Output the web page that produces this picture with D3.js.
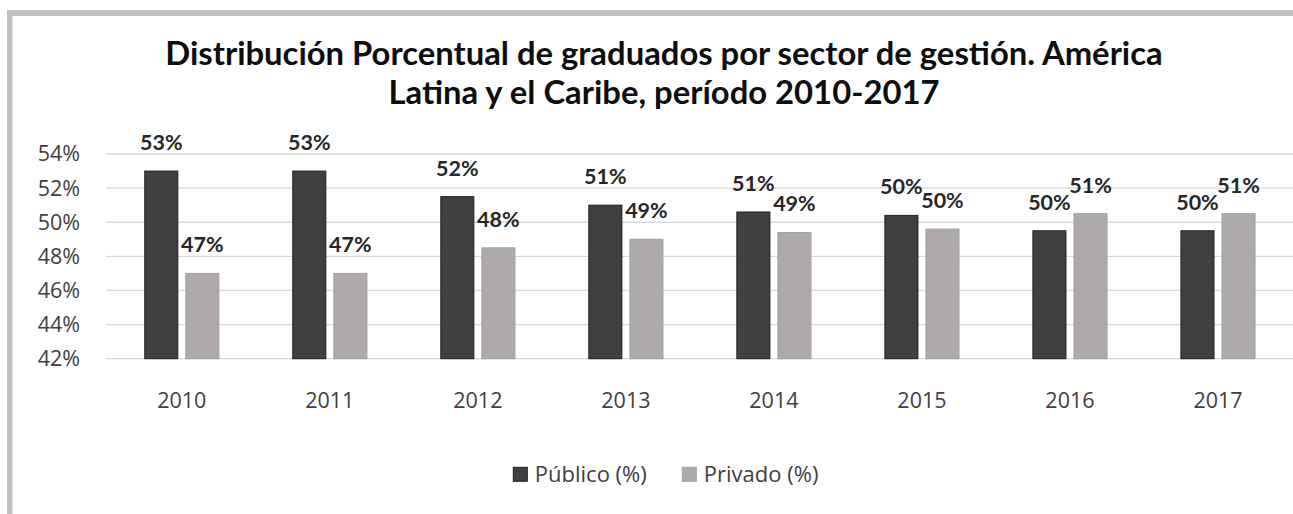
<!DOCTYPE html>
<html>
<head>
<meta charset="utf-8">
<script src="https://cdn.jsdelivr.net/npm/d3@7"></script>
<style>
  html, body { margin: 0; padding: 0; background: #fff; }
  svg { display: block; }
</style>
</head>
<body>
<svg id="chart" width="1293" height="514"></svg>
<script>
// ---- data ----
const years = ["2010", "2011", "2012", "2013", "2014", "2015", "2016", "2017"];
const seriesNames = ["Público (%)", "Privado (%)"];
const publico = [53.0, 53.0, 51.5, 51.0, 50.6, 50.4, 49.5, 49.5];
const privado = [47.0, 47.0, 48.5, 49.0, 49.4, 49.6, 50.5, 50.5];
const publicoLabels = ["53%", "53%", "52%", "51%", "51%", "50%", "50%", "50%"];
const privadoLabels = ["47%", "47%", "48%", "49%", "49%", "50%", "51%", "51%"];
const yTicks = [42, 44, 46, 48, 50, 52, 54];
const titleLines = [
  "Distribución Porcentual de graduados por sector de gestión. América",
  "Latina y el Caribe, período 2010-2017"
];

const colors = { "Público (%)": "#404040", "Privado (%)": "#AEAAAA" };
const strokes = { "Público (%)": "#1f1f1f", "Privado (%)": "#a3a0a0" };

const svg = d3.select("#chart");

// frame (top and left gray border of the cropped chart area)
svg.append("rect").attr("x", 7).attr("y", 10).attr("width", 1293 - 7).attr("height", 6).attr("fill", "#C0C0C4");
svg.append("rect").attr("x", 7).attr("y", 10).attr("width", 5.5).attr("height", 514 - 10).attr("fill", "#C0C0C4");

// scales
const x0 = d3.scaleBand().domain(years).range([107.8, 1292]).paddingInner(0).paddingOuter(0);
const x1 = d3.scaleBand().domain(seriesNames).range([0, x0.bandwidth()]).paddingInner(0.195).paddingOuter(0.90);
const y = d3.scaleLinear().domain([42, 54]).range([358.7, 154]);

// gridlines
svg.append("g").selectAll("line").data(yTicks).join("line")
  .attr("x1", 106).attr("x2", 1293)
  .attr("y1", d => y(d)).attr("y2", d => y(d))
  .attr("stroke", "#D9D9D9").attr("stroke-width", 1.3);

// y axis labels
const yAxis = d3.axisLeft(y).tickValues(yTicks).tickFormat(d => d + "%").tickSize(0).tickPadding(0);
const gy = svg.append("g").attr("transform", "translate(80,0)").call(yAxis);
gy.select(".domain").remove();
gy.selectAll("text")
  .attr("font-family", "'Open Sans', sans-serif").attr("font-size", 21.5)
  .attr("fill", "#404040");

// x axis labels
const xAxis = d3.axisBottom(x0).tickSize(0).tickPadding(0);
const gx = svg.append("g").attr("transform", "translate(0,393)").call(xAxis);
gx.select(".domain").remove();
gx.selectAll("text")
  .attr("font-family", "'Open Sans', sans-serif").attr("font-size", 21.5)
  .attr("fill", "#404040").attr("dy", "0.72em");

// bars
const rows = years.map((yr, i) => ({
  year: yr,
  values: [
    { key: seriesNames[0], value: publico[i], label: publicoLabels[i] },
    { key: seriesNames[1], value: privado[i], label: privadoLabels[i] }
  ]
}));

const groups = svg.append("g").selectAll("g").data(rows).join("g")
  .attr("transform", d => `translate(${x0(d.year)},0)`);

groups.selectAll("rect").data(d => d.values).join("rect")
  .attr("x", d => x1(d.key))
  .attr("y", d => y(d.value))
  .attr("width", x1.bandwidth())
  .attr("height", d => y(42) - y(d.value))
  .attr("fill", d => colors[d.key])
  .attr("stroke", d => strokes[d.key])
  .attr("stroke-width", 1);

groups.selectAll("text").data(d => d.values).join("text")
  .attr("x", d => x1(d.key) + x1.bandwidth() / 2)
  .attr("y", d => y(d.value) - 21)
  .attr("text-anchor", "middle")
  .attr("font-family", "Lato, sans-serif").attr("font-weight", "bold")
  .attr("font-size", 21.5).attr("fill", "#262626")
  .text(d => d.label);

// title
const title = svg.append("g");
const tBase = [65, 104];
title.selectAll("text").data(titleLines).join("text")
  .attr("x", 664).attr("y", (d, i) => tBase[i])
  .attr("text-anchor", "middle")
  .attr("font-family", "Lato, sans-serif").attr("font-weight", "bold")
  .attr("font-size", 28).attr("fill", "#0d0d0d")
  .text(d => d);
// fit first line width to ~998px
const w0 = title.select("text").node().getComputedTextLength();
const fs = Math.max(20, Math.min(34, 28 * 998 / w0));
title.selectAll("text").attr("font-size", fs);

// legend
const legendX = [513.3, 682.3];
const leg = svg.append("g").selectAll("g").data(seriesNames).join("g")
  .attr("transform", (d, i) => `translate(${legendX[i]},467.3)`);
leg.append("rect").attr("width", 14).attr("height", 14)
  .attr("fill", d => colors[d]).attr("stroke", d => strokes[d]).attr("stroke-width", 1);
leg.append("text").attr("x", 21.5).attr("y", 15)
  .attr("font-family", "'Open Sans', sans-serif").attr("font-size", 22)
  .attr("fill", "#404040")
  .text(d => d);
</script>
</body>
</html>
